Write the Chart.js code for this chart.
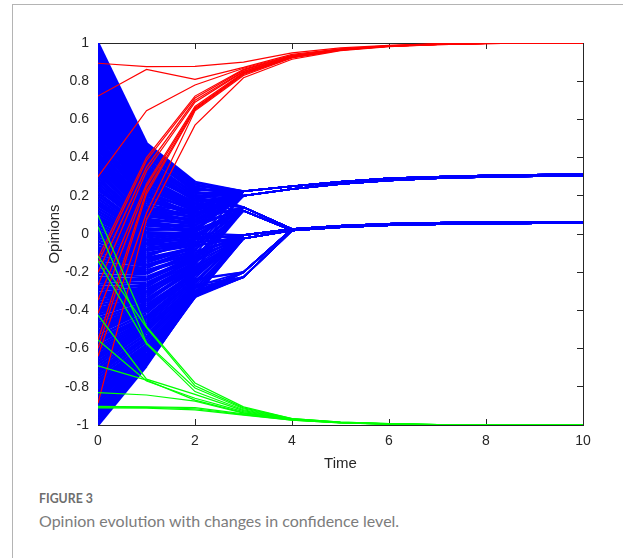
<!DOCTYPE html>
<html>
<head>
<meta charset="utf-8">
<script src="https://cdn.jsdelivr.net/npm/chart.js@4.4.0/dist/chart.umd.min.js"></script>
<style>
  html, body { margin: 0; padding: 0; background: #fff; }
  body { width: 623px; height: 558px; position: relative; overflow: hidden; }
  #frame { position: absolute; left: 12px; top: 4px; right: -2px; bottom: -2px;
           border-left: 1px solid #b4b4b4; border-top: 1px solid #b4b4b4; }
  #plot { position: absolute; left: 0; top: 0; }
  .fig { position: absolute; left: 39px; top: 489px; font-family: Lato, sans-serif;
         font-weight: bold; font-size: 14px; color: #6e6e6e;
         transform: scaleX(0.88); transform-origin: left center; }
  .cap { position: absolute; left: 39px; top: 511px; font-family: Lato, sans-serif;
         font-size: 16px; color: #7c7c7c; }
</style>
</head>
<body>
<div id="frame"></div>
<canvas id="plot" width="623" height="480"></canvas>
<div class="fig">FIGURE 3</div>
<div class="cap">Opinion evolution with changes in confidence level.</div>
<script>
// time axis
const timeSteps = [0, 1, 2, 3, 4, 5, 6, 7, 8, 9, 10];

// blue agents (normal confidence): opinions at t=0, t=1, t=2 and the cluster they join at t=3
const blueStart = [
  1.00, 0.985, 0.97, 0.96, 0.95, 0.935, 0.92, 0.905, 0.89, 0.88,
  0.87, 0.855, 0.84, 0.825, 0.81, 0.80, 0.79, 0.775, 0.76, 0.745,
  0.73, 0.72, 0.71, 0.695, 0.68, 0.665, 0.65, 0.64, 0.63, 0.615,
  0.60, 0.585, 0.57, 0.56, 0.55, 0.535, 0.52, 0.505, 0.49, 0.48,
  0.47, 0.455, 0.44, 0.425, 0.41, 0.40, 0.39, 0.375, 0.36, 0.345,
  0.33, 0.32, 0.31, 0.295, 0.28, 0.265, 0.25, 0.24, 0.23, 0.215,
  0.20, 0.185, 0.17, 0.16, 0.15, 0.135, 0.12, 0.105, 0.09, 0.08,
  0.07, 0.055, 0.04, 0.025, 0.01, 0.00, -0.01, -0.025, -0.04, -0.055,
  -0.07, -0.08, -0.09, -0.105, -0.12, -0.135, -0.15, -0.16, -0.17, -0.185,
  -0.20, -0.215, -0.23, -0.24, -0.25, -0.265, -0.28, -0.295, -0.31, -0.32,
  -0.33, -0.345, -0.36, -0.375, -0.39, -0.40, -0.41, -0.425, -0.44, -0.455,
  -0.47, -0.48, -0.49, -0.505, -0.52, -0.535, -0.55, -0.56, -0.57, -0.585,
  -0.60, -0.615, -0.63, -0.64, -0.65, -0.665, -0.68, -0.695, -0.71, -0.72,
  -0.73, -0.745, -0.76, -0.775, -0.79, -0.80, -0.81, -0.825, -0.84, -0.855,
  -0.87, -0.885, -0.90, -0.915, -0.93, -0.94, -0.95, -0.965, -0.98, -0.99,
  -1.00
];
const blueStep1 = [
  0.476, 0.465, 0.46, 0.45, 0.43, 0.445, 0.44, 0.42, 0.40, 0.415,
  0.41, 0.39, 0.37, 0.385, 0.38, 0.36, 0.35, 0.345, 0.33, 0.32,
  0.34, 0.31, 0.30, 0.295, 0.29, 0.28, 0.27, 0.255, 0.26, 0.24,
  0.25, 0.23, 0.22, 0.215, 0.20, 0.19, 0.21, 0.185, 0.17, 0.18,
  0.16, 0.14, 0.15, 0.135, 0.12, 0.11, 0.13, 0.115, 0.10, 0.095,
  0.08, 0.07, 0.09, 0.065, 0.06, 0.05, 0.04, 0.03, 0.05, 0.025,
  0.02, 0.01, 0.00, 0.005, -0.01, -0.02, -0.03, -0.035, -0.04, -0.055,
  -0.05, -0.06, -0.07, -0.08, -0.09, -0.085, -0.10, -0.11, -0.12, -0.125,
  -0.13, -0.14, -0.15, -0.16, -0.17, -0.165, -0.18, -0.19, -0.20, -0.205,
  -0.21, -0.225, -0.24, -0.235, -0.24, -0.255, -0.27, -0.265, -0.28, -0.29,
  -0.30, -0.305, -0.31, -0.32, -0.33, -0.34, -0.35, -0.345, -0.36, -0.37,
  -0.38, -0.39, -0.40, -0.395, -0.40, -0.415, -0.43, -0.435, -0.44, -0.45,
  -0.46, -0.47, -0.48, -0.49, -0.50, -0.505, -0.51, -0.525, -0.54, -0.545,
  -0.55, -0.565, -0.58, -0.59, -0.60, -0.605, -0.61, -0.62, -0.63, -0.635,
  -0.64, -0.65, -0.66, -0.655, -0.66, -0.665, -0.67, -0.675, -0.68, -0.685,
  -0.69
];
const blueStep2 = [
  0.274, 0.268, 0.262, 0.258, 0.25, 0.24, 0.245, 0.235, 0.23, 0.225,
  0.22, 0.21, 0.215, 0.205, 0.19, 0.195, 0.20, 0.185, 0.18, 0.175,
  0.17, 0.18, 0.19, 0.165, 0.16, 0.155, 0.15, 0.145, 0.13, 0.14,
  0.16, 0.135, 0.12, 0.125, 0.14, 0.115, 0.10, 0.105, 0.11, 0.095,
  0.08, 0.10, 0.12, 0.085, 0.09, 0.075, 0.06, 0.065, 0.07, 0.055,
  0.05, 0.06, 0.08, 0.035, 0.02, 0.045, 0.04, 0.015, 0.01, 0.025,
  0.03, 0.005, 0.00, -0.01, -0.02, 0.02, 0.01, -0.01, -0.03, -0.015,
  0.00, -0.035, -0.05, -0.025, -0.04, -0.055, -0.06, -0.045, -0.02, -0.07,
  -0.08, -0.065, -0.07, -0.09, -0.10, -0.085, -0.06, -0.11, -0.12, -0.10,
  -0.09, -0.125, -0.13, -0.115, -0.11, -0.14, -0.15, -0.135, -0.12, -0.155,
  -0.16, -0.145, -0.18, -0.165, -0.14, -0.175, -0.19, -0.185, -0.17, -0.20,
  -0.21, -0.195, -0.19, -0.215, -0.23, -0.205, -0.22, -0.235, -0.25, -0.245,
  -0.24, -0.255, -0.27, -0.265, -0.26, -0.275, -0.28, -0.285, -0.29, -0.295,
  -0.30, -0.305, -0.31, -0.315, -0.30, -0.31, -0.32, -0.315, -0.31, -0.325,
  -0.33, -0.32, -0.32, -0.325, -0.31, -0.33, -0.32, -0.325, -0.33, -0.325,
  -0.32
];
const blueCluster = [
  'U', 'U', 'u', 'U', 'U', 'u', 'u', 'U', 'U', 'A',
  'u', 'U', 'U', 'u', 'A', 'U', 'u', 'U', 'U', 'u',
  'u', 'U', 'U', 'u', 'A', 'U', 'u', 'U', 'U', 'u',
  'a', 'U', 'u', 'U', 'U', 'a', 'u', 'U', 'u', 'U',
  'A', 'u', 'U', 'U', 'u', 'A', 'a', 'u', 'U', 'u',
  'a', 'U', 'u', 'A', 'a', 'u', 'U', 'a', 'a', 'U',
  'u', 'B', 'b', 'A', 'A', 'u', 'U', 'b', 'B', 'a',
  'a', 'U', 'u', 'B', 'b', 'a', 'A', 'b', 'B', 'A',
  'a', 'B', 'u', 'b', 'B', 'a', 'b', 'U', 'A', 'B',
  'b', 'a', 'a', 'b', 'B', 'A', 'U', 'B', 'b', 'a',
  'A', 'b', 'a', 'B', 'B', 'b', 'A', 'B', 'b', 'B',
  'B', 'b', 'b', 'B', 'B', 'b', 'b', 'L', 'B', 'b',
  'L', 'B', 'b', 'l', 'B', 'L', 'l', 'B', 'b', 'l',
  'L', 'b', 'B', 'L', 'l', 'B', 'b', 'l', 'L', 'b',
  'l', 'L', 'L', 'l', 'l', 'L', 'L', 'l', 'b', 'L',
  'L'
];

// cluster trajectories from t=3 to t=10
const tailUpperA = [0.224, 0.250, 0.273, 0.291, 0.300, 0.306, 0.310, 0.313];
const tailUpperB = [0.200, 0.236, 0.262, 0.281, 0.292, 0.299, 0.303, 0.305];
const tailMidA   = [0.140, 0.026, 0.043, 0.053, 0.058, 0.061, 0.063, 0.064];
const tailMidB   = [0.122, 0.018, 0.035, 0.046, 0.051, 0.054, 0.056, 0.057];
const tailZeroA  = [-0.006, 0.026, 0.043, 0.053, 0.058, 0.061, 0.063, 0.064];
const tailZeroB  = [-0.024, 0.018, 0.035, 0.046, 0.051, 0.054, 0.056, 0.057];
const tailLowA   = [-0.200, 0.026, 0.043, 0.053, 0.058, 0.061, 0.063, 0.064];
const tailLowB   = [-0.226, 0.018, 0.035, 0.046, 0.051, 0.054, 0.056, 0.057];

// red agents (drift to +1)
const redPaths = [
  [0.894, 0.876, 0.878, 0.900, 0.948, 0.974, 0.988, 0.996, 0.999, 1, 1],
  [0.722, 0.862, 0.810, 0.872, 0.940, 0.970, 0.986, 0.995, 0.999, 1, 1],
  [0.300, 0.646, 0.780, 0.868, 0.936, 0.968, 0.985, 0.994, 0.998, 1, 1],
  [-0.126, 0.400, 0.722, 0.862, 0.934, 0.967, 0.985, 0.994, 0.998, 1, 1],
  [-0.150, 0.385, 0.712, 0.858, 0.932, 0.966, 0.984, 0.993, 0.998, 1, 1],
  [-0.200, 0.350, 0.700, 0.852, 0.930, 0.966, 0.984, 0.993, 0.998, 1, 1],
  [-0.267, 0.330, 0.690, 0.850, 0.929, 0.965, 0.984, 0.993, 0.998, 1, 1],
  [-0.345, 0.262, 0.668, 0.845, 0.928, 0.965, 0.984, 0.993, 0.998, 1, 1],
  [-0.415, 0.248, 0.660, 0.842, 0.926, 0.964, 0.983, 0.993, 0.998, 1, 1],
  [-0.555, 0.225, 0.655, 0.840, 0.925, 0.964, 0.983, 0.993, 0.998, 1, 1],
  [-0.600, 0.210, 0.650, 0.835, 0.924, 0.963, 0.983, 0.993, 0.998, 1, 1],
  [-0.640, 0.110, 0.645, 0.830, 0.922, 0.962, 0.982, 0.992, 0.997, 1, 1],
  [-0.885, 0.075, 0.570, 0.818, 0.915, 0.960, 0.981, 0.992, 0.997, 1, 1]
];

// green agents (drift to -1)
const greenPaths = [
  [0.100, -0.485, -0.780, -0.905, -0.966, -0.985, -0.993, -0.998, -1, -1, -1],
  [0.038, -0.570, -0.806, -0.915, -0.968, -0.986, -0.994, -0.998, -1, -1, -1],
  [-0.115, -0.490, -0.795, -0.910, -0.967, -0.985, -0.993, -0.998, -1, -1, -1],
  [-0.140, -0.575, -0.825, -0.920, -0.969, -0.986, -0.994, -0.998, -1, -1, -1],
  [-0.425, -0.760, -0.840, -0.925, -0.970, -0.987, -0.994, -0.998, -1, -1, -1],
  [-0.555, -0.770, -0.860, -0.930, -0.971, -0.987, -0.994, -0.999, -1, -1, -1],
  [-0.690, -0.765, -0.870, -0.935, -0.972, -0.988, -0.995, -0.999, -1, -1, -1],
  [-0.830, -0.843, -0.875, -0.938, -0.972, -0.988, -0.995, -0.999, -1, -1, -1],
  [-0.902, -0.905, -0.909, -0.942, -0.973, -0.988, -0.995, -0.999, -1, -1, -1],
  [-0.906, -0.908, -0.915, -0.946, -0.974, -0.989, -0.995, -0.999, -1, -1, -1],
  [-0.910, -0.912, -0.921, -0.948, -0.975, -0.989, -0.996, -0.999, -1, -1, -1]
];

const tails = {
  U: tailUpperA, u: tailUpperB, A: tailMidA, a: tailMidB,
  B: tailZeroA, b: tailZeroB, L: tailLowA, l: tailLowB
};
const bluePaths = blueStart.map((v, i) =>
  [v, blueStep1[i], blueStep2[i], ...tails[blueCluster[i]]]
);

function lineSet(path, color, order, extra) {
  return Object.assign({
    data: path.map((y, i) => ({ x: timeSteps[i], y: y })),
    borderColor: color,
    borderWidth: 1.2,
    pointRadius: 0,
    fill: false,
    tension: 0,
    order: order
  }, extra || {});
}

// thicker strokes where the blue fan is dense
const blueWidths = [2.8, 2.4, 1.9, 1.6];

const datasets = [];
greenPaths.forEach(p => datasets.push(lineSet(p, '#00ff00', 1)));
redPaths.forEach(p => datasets.push(lineSet(p, '#ff0000', 2)));
bluePaths.forEach(p => datasets.push(lineSet(p, '#0000ff', 3, {
  borderWidth: 1.6,
  segment: {
    borderWidth: ctx => blueWidths[Math.min(ctx.p0DataIndex, 3)]
  }
})));

const axisColor = '#262626';
const tickFont = { family: '"Liberation Sans", Arial, sans-serif', size: 14 };
const titleFont = { family: '"Liberation Sans", Arial, sans-serif', size: 15 };

new Chart(document.getElementById('plot').getContext('2d'), {
  type: 'line',
  data: { datasets: datasets },
  options: {
    responsive: false,
    animation: false,
    events: [],
    layout: { padding: { left: 40, right: 40, top: 43, bottom: 0 } },
    plugins: { legend: { display: false }, tooltip: { enabled: false } },
    scales: {
      x: {
        type: 'linear', position: 'bottom', min: 0, max: 10,
        ticks: { stepSize: 2, color: axisColor, font: tickFont, padding: 14, maxRotation: 0 },
        grid: { drawOnChartArea: false, tickLength: -6, color: axisColor },
        border: { color: axisColor, width: 1 },
        title: { display: true, text: 'Time', color: axisColor, font: titleFont, padding: { top: 0, bottom: 7 } },
        afterFit: s => { s.height = 55; s.paddingLeft = 0; s.paddingRight = 0; }
      },
      x2: {
        type: 'linear', position: 'top', min: 0, max: 10,
        ticks: { stepSize: 2, display: false },
        grid: { drawOnChartArea: false, tickLength: -6, color: axisColor },
        border: { color: axisColor, width: 1 },
        afterFit: s => { s.height = 0; }
      },
      y: {
        type: 'linear', position: 'left', min: -1, max: 1,
        ticks: {
          stepSize: 0.2, color: axisColor, font: tickFont, padding: 15,
          callback: v => String(Math.round(v * 10) / 10)
        },
        grid: { drawOnChartArea: false, tickLength: -6, color: axisColor },
        border: { color: axisColor, width: 1 },
        title: { display: true, text: 'Opinions', color: axisColor, font: titleFont, padding: { top: 6, bottom: 0 } },
        afterFit: s => { s.width = 58; s.paddingTop = 0; s.paddingBottom = 0; }
      },
      y2: {
        type: 'linear', position: 'right', min: -1, max: 1,
        ticks: { stepSize: 0.2, display: false },
        grid: { drawOnChartArea: false, tickLength: -6, color: axisColor },
        border: { color: axisColor, width: 1 },
        afterFit: s => { s.width = 0; }
      }
    }
  }
});
</script>
</body>
</html>
